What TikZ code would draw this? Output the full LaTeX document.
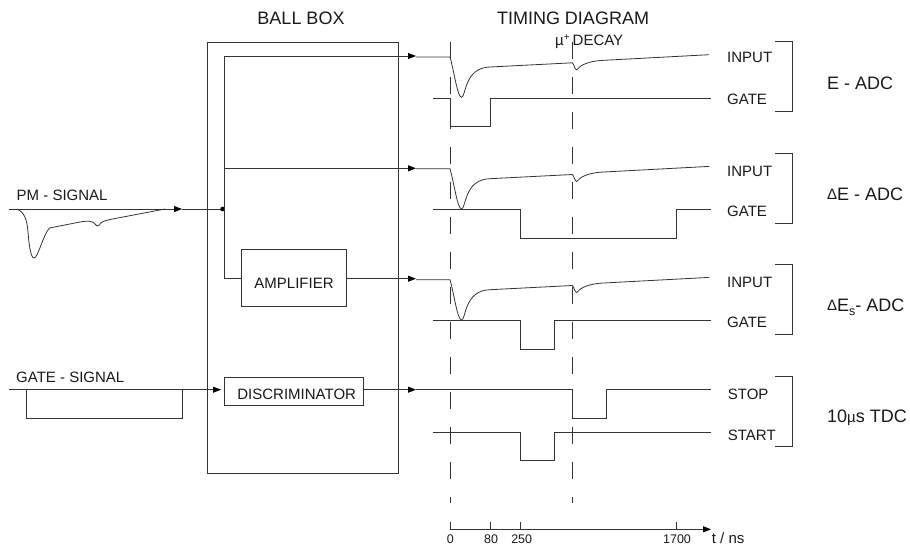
\documentclass[tikz,border=0pt]{standalone}
\usepackage{fontspec}
\setmainfont{Liberation Sans}
\usetikzlibrary{arrows.meta}
\tikzset{
  wire/.style={line width=0.8pt,draw=black!80},
  sig/.style={line width=0.8pt,draw=black!80,-{Triangle[length=8pt,width=6pt,color=black]}},
  dashline/.style={line width=0.8pt,draw=black!80,dash pattern=on 17.3pt off 17.7pt},
  blockbox/.style={draw=black!80,line width=0.8pt,fill=white,inner sep=0pt,font=\fontsize{15}{17}\selectfont,text=black!90},
  lab/.style={inner sep=0pt,anchor=base west,font=\fontsize{15}{17}\selectfont,text=black!90},
  biglab/.style={inner sep=0pt,anchor=base west,font=\fontsize{18}{20}\selectfont,text=black!90},
  titlelab/.style={inner sep=0pt,anchor=base,font=\fontsize{18}{20}\selectfont,text=black!90},
  ticklab/.style={inner sep=0pt,anchor=base,font=\fontsize{12.5}{14}\selectfont,text=black!90},
}
\newcommand{\smalldelta}{{\fontsize{15}{17}\selectfont\raisebox{1pt}{Δ}}}
\begin{document}
\begin{tikzpicture}[x=1pt,y=-1pt]
\useasboundingbox (0,0) rectangle (910,547);
% ball box
\node[draw=black!80,line width=0.8pt,minimum width=191.6pt,minimum height=431.6pt,inner sep=0pt,anchor=north west] (ball) at (206.7,41.7) {};
\node[titlelab] (balltitle) at (301,24) {BALL BOX};
\node[titlelab] (timetitle) at (573,24) {TIMING DIAGRAM};
\node[lab] (mu) at (555,45) {µ\raisebox{5pt}{\fontsize{10}{12}\selectfont +}\hspace{3pt}DECAY};
% blocks
\node[blockbox,minimum width=104.7pt,minimum height=56.7pt,anchor=north west] (amp) at (241.3,249.3) {\raisebox{-10.6pt}[0pt][0pt]{AMPLIFIER}};
\node[blockbox,minimum width=139.6pt,minimum height=28.3pt,anchor=north west] (disc) at (223.7,376.7) {\hspace*{5.6pt}\raisebox{-7.8pt}[0pt][0pt]{DISCRIMINATOR}};
% coordinates
\coordinate (junc) at (222.7,209);
\coordinate (i1) at (224,56);
\coordinate (i2) at (224,168.3);
\coordinate (i3) at (224,278.7);
\coordinate (pmstart) at (8.7,209);
\coordinate (gatestart) at (8.7,389.7);
% dashed
\coordinate (d1t) at (450.3,41.7);
\coordinate (d1b) at (450.3,503);
\coordinate (d2t) at (572.3,41.7);
\coordinate (d2b) at (572.3,503);
\draw[dashline] (d1t) -- (d1b);
\draw[dashline] (d2t) -- (d2b);
% left inputs
\node[lab] (pmlab) at (16.5,200) {PM - SIGNAL};
\node[lab] (gatelab) at (16,382.7) {GATE - SIGNAL};
\draw[sig] (pmstart) -- (182,209);
\draw[wire] (182,209) -- (junc);
\fill[black] (junc) circle (2.4pt);
\draw[wire] (i1) -- (i3) -- (amp.west |- i3);
\draw[sig] (gatestart) -- (221,389.7);
\draw[wire] (26,389.7) -- (26,418) -- (182.7,418) -- (182.7,389.7);
\draw[wire] (17,209) .. controls (24,212) and (27,219) .. (28,232) .. controls (29,246) and (31,258) .. (34,258)
  .. controls (38,258) and (43,235) .. (49.5,228) -- (80,222) .. controls (88,220.5) and (93,221) .. (95,224)
  .. controls (96,226) and (98,227) .. (99.5,225) .. controls (100,222) and (104,221) .. (110,219.5) -- (165,209);
% signals with arrows
\draw[sig] (i1) -- (416,56);
\draw[sig] (i2) -- (416,168.3);
\draw[sig] (amp.east |- i3) -- (416,278.7);
\draw[sig] (disc.east |- gatestart) -- (416,389.7);
% curves
\newcommand{\pulse}[2]{%
 \draw[wire] (416,#1) -- (450,#1) .. controls (454,#1+14) and (457.5,#2) .. (461.5,#2)
 .. controls (466,#2) and (464,#1+10.5) .. (490,#1+10) -- (572.3,#1+5.8)
 .. controls (574,#1+7) and (574.8,#1+12.8) .. (576.7,#1+12.8)
 .. controls (578.5,#1+12.8) and (578,#1+6) .. (600,#1+3.5) -- (709,#1-2.3);}
\pulse{57}{97.3}
\pulse{168.7}{209}
\pulse{279.7}{320}
% gates
\draw[wire] (433,98.3) -- (450.3,98.3) -- (450.3,126.5) -- (490.5,126.5) -- (490.5,98.3) -- (711,98.3);
\draw[wire] (433,209) -- (520,209) -- (520,238.5) -- (676.7,238.5) -- (676.7,209) -- (711,209);
\draw[wire] (433,320) -- (520,320) -- (520,349.3) -- (554.7,349.3) -- (554.7,320) -- (711,320);
\draw[wire] (416,389.7) -- (572.3,389.7) -- (572.3,418.3) -- (606.7,418.3) -- (606.7,389.7) -- (711,389.7);
\draw[wire] (433,432.3) -- (520,432.3) -- (520,460.3) -- (554.7,460.3) -- (554.7,432.3) -- (711,432.3);
% axis
\coordinate (ax0) at (450.3,529.3);
\coordinate (axend) at (711,529.3);
\draw[sig] (ax0) -- (axend);
\foreach \x in {450.3,490.5,520,676.7}{\draw[wire] (\x,529.3) -- (\x,521.7);}
\node[ticklab] (t0) at (450.3,543.3) {0};
\node[ticklab] (t80) at (491,543.3) {80};
\node[ticklab] (t250) at (521.7,543.3) {250};
\node[ticklab] (t1700) at (677,543.3) {1700};
\node[lab] (tns) at (711.7,543.3) {t / ns};
% right labels
\node[lab] (l1) at (727,62.3) {INPUT};
\node[lab] (l2) at (727,104) {GATE};
\node[lab] (l3) at (727,176) {INPUT};
\node[lab] (l4) at (727,216) {GATE};
\node[lab] (l5) at (727,287.3) {INPUT};
\node[lab] (l6) at (727,327.7) {GATE};
\node[lab] (l7) at (727.7,399.3) {STOP};
\node[lab] (l8) at (727.7,440) {START};
% brackets
\foreach \t/\b in {41.7/111,153.7/223.3,264.3/334.3,376.7/446.3}{
  \draw[wire] (774.7,\t) -- (792,\t) -- (792,\b) -- (774.7,\b);
}
\node[biglab] (e1) at (827,89.3) {E - ADC};
\node[biglab] (e2) at (827,200) {\smalldelta E - ADC};
\node[biglab] (e3) at (827,311.7) {\smalldelta E\raisebox{-4pt}{\fontsize{12.5}{14}\selectfont s}- ADC};
\node[biglab] (e4) at (827,422.7) {10{\fontsize{15}{17}\selectfont µ}s TDC};
\end{tikzpicture}
\end{document}
